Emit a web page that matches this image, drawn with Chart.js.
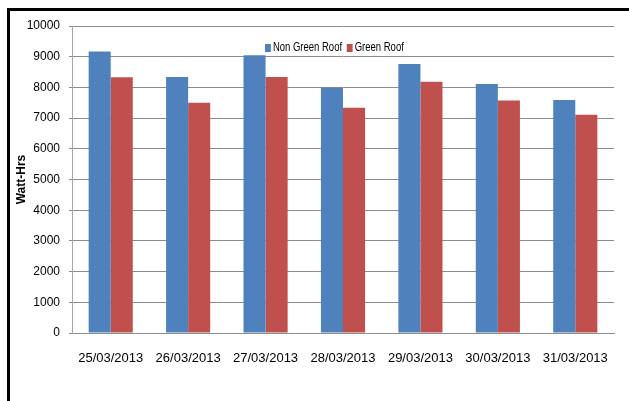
<!DOCTYPE html>
<html>
<head>
<meta charset="utf-8">
<script src="https://cdn.jsdelivr.net/npm/chart.js@4"></script>
<style>
  html, body { margin: 0; padding: 0; background: #fff; }
  #wrap { position: relative; width: 629px; height: 401px; overflow: hidden; }
  #frame {
    position: absolute; left: 7px; top: 8px; width: 640px; height: 420px;
    border-left: 3px solid #000; border-top: 3px solid #000;
  }
  #chart { position: absolute; left: 0; top: 0; }
  #legend {
    position: absolute; left: 265px; top: 39px;
    font: 13px "Liberation Sans", Arial, sans-serif;
    color: #000; white-space: nowrap; line-height: 15px;
    transform: scaleX(0.73); transform-origin: left top;
  }
  #legend span.box { display: inline-block; width: 8.2px; height: 8px; margin-right: 2.7px; vertical-align: -1px; }
  #legend span.item { margin-right: 6.5px; }
</style>
</head>
<body>
<div id="wrap">
  <div id="frame"></div>
  <canvas id="chart" width="629" height="401"></canvas>
  <div id="legend"></div>
</div>
<script>
const labels = ["25/03/2013", "26/03/2013", "27/03/2013", "28/03/2013", "29/03/2013", "30/03/2013", "31/03/2013"];
const nonGreenRoof = [9170, 8340, 9050, 7990, 8760, 8110, 7590];
const greenRoof = [8330, 7500, 8340, 7340, 8180, 7570, 7110];
const yTicks = [0, 1000, 2000, 3000, 4000, 5000, 6000, 7000, 8000, 9000, 10000];
const seriesNames = ["Non Green Roof", "Green Roof"];
const seriesColors = ["#4F81BD", "#C0504D"];

const FONT = "'Liberation Sans', Arial, sans-serif";

const chart = new Chart(document.getElementById("chart"), {
  type: "bar",
  data: {
    labels,
    datasets: [
      {
        label: seriesNames[0],
        data: nonGreenRoof,
        backgroundColor: seriesColors[0],
        categoryPercentage: 0.57,
        barPercentage: 1,
      },
      {
        label: seriesNames[1],
        data: greenRoof,
        backgroundColor: seriesColors[1],
        categoryPercentage: 0.57,
        barPercentage: 1,
      },
    ],
  },
  options: {
    responsive: false,
    animation: false,
    layout: { padding: { left: 8, right: 15, top: 26, bottom: 0 } },
    plugins: {
      legend: { display: false },
      tooltip: { enabled: false },
    },
    scales: {
      x: {
        grid: { display: false, drawTicks: false },
        border: { display: true, color: "#8c8c8c" },
        ticks: {
          color: "#000",
          padding: 18,
          maxRotation: 0,
          font: { family: FONT, size: 13 },
        },
        afterFit: (s) => { s.height = 68; },
      },
      y: {
        min: 0,
        max: 10000,
        afterBuildTicks: (s) => { s.ticks = yTicks.map((v) => ({ value: v })); },
        grid: { color: "#8c8c8c", tickLength: 3, tickColor: "#8c8c8c" },
        border: { display: true, color: "#a6a6a6" },
        ticks: {
          color: "#000",
          padding: 9,
          callback: (v) => String(v),
          font: { family: FONT, size: 12 },
        },
        title: {
          display: true,
          text: "Watt-Hrs",
          color: "#000",
          padding: { top: 6, bottom: 0 },
          font: { family: FONT, size: 12, weight: "bold" },
        },
        afterFit: (s) => { s.width = 64; },
      },
    },
  },
});

document.getElementById("legend").innerHTML = seriesNames
  .map((n, i) => `<span class="item"><span class="box" style="background:${seriesColors[i]}"></span>${n}</span>`)
  .join("");
</script>
</body>
</html>
